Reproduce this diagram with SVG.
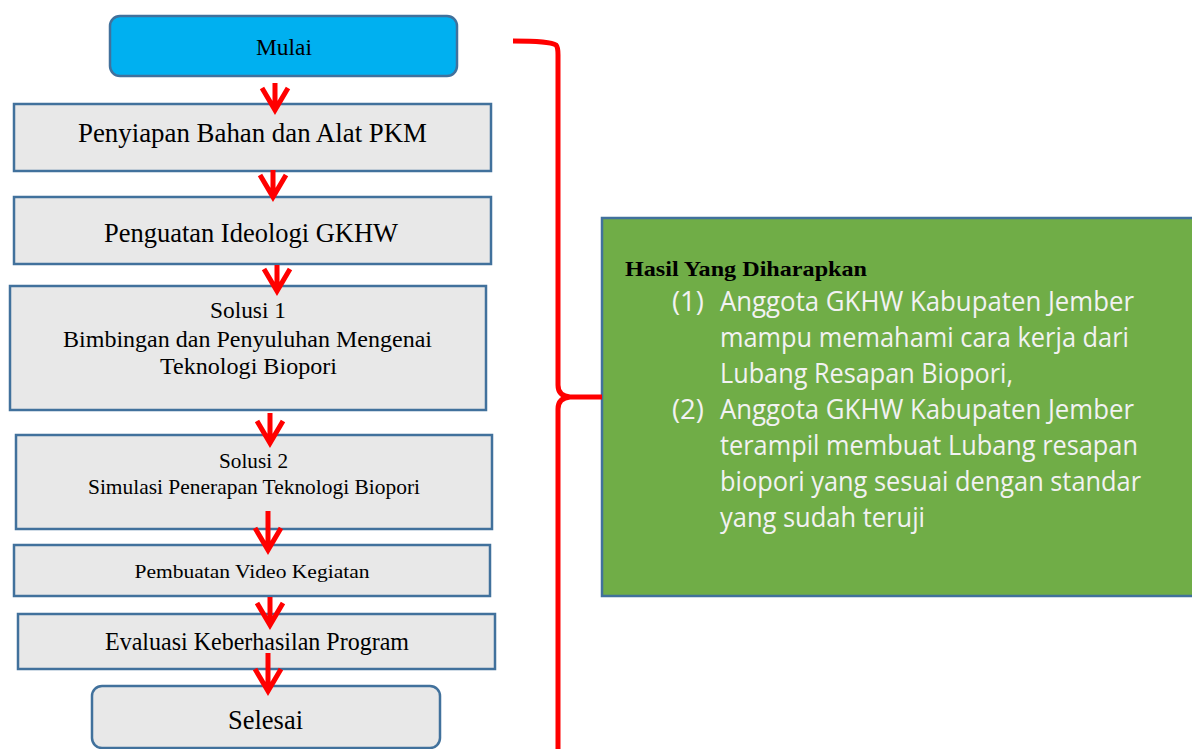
<svg xmlns="http://www.w3.org/2000/svg" width="1192" height="749" viewBox="0 0 1192 749">
<style>
.box{fill:#E8E8E8;stroke:#41719C;stroke-width:2.5}
.start{fill:#00B0F0;stroke:#41719C;stroke-width:2.5}
.t{font-family:"Liberation Serif","Times New Roman",serif;fill:#000;text-anchor:middle}
.g{font-family:"Open Sans","Liberation Sans",sans-serif;fill:#F2F2F2;font-size:27px}
.arr{fill:none;stroke:#FF0000;stroke-width:5;stroke-linejoin:miter}
.brace{fill:none;stroke:#FF0000;stroke-width:5;stroke-linecap:butt}
</style>
<rect width="1192" height="749" fill="#FFFFFF"/>

<g id="result">
<rect x="602" y="218" width="600" height="378" fill="#70AD47" stroke="#41719C" stroke-width="2.5"/>
<text x="625" y="276" font-family="'Liberation Serif','Times New Roman',serif" font-weight="bold" font-size="21" textLength="242" lengthAdjust="spacingAndGlyphs">Hasil Yang Diharapkan</text>
<text class="g" x="672" y="311" textLength="32" lengthAdjust="spacingAndGlyphs">(1)</text>
<text class="g" x="720" y="311" textLength="414" lengthAdjust="spacingAndGlyphs">Anggota GKHW Kabupaten Jember</text>
<text class="g" x="720" y="347" textLength="409" lengthAdjust="spacingAndGlyphs">mampu memahami cara kerja dari</text>
<text class="g" x="720" y="383" textLength="293" lengthAdjust="spacingAndGlyphs">Lubang Resapan Biopori,</text>
<text class="g" x="672" y="419" textLength="32" lengthAdjust="spacingAndGlyphs">(2)</text>
<text class="g" x="720" y="419" textLength="414" lengthAdjust="spacingAndGlyphs">Anggota GKHW Kabupaten Jember</text>
<text class="g" x="720" y="455" textLength="418" lengthAdjust="spacingAndGlyphs">terampil membuat Lubang resapan</text>
<text class="g" x="720" y="491" textLength="421" lengthAdjust="spacingAndGlyphs">biopori yang sesuai dengan standar</text>
<text class="g" x="720" y="527" textLength="205" lengthAdjust="spacingAndGlyphs">yang sudah teruji</text>
</g>

<g id="mulai">
<rect class="start" x="110" y="16" width="347" height="60" rx="10"/>
<text class="t" x="284" y="55" font-size="24" textLength="56" lengthAdjust="spacingAndGlyphs">Mulai</text>
</g>
<g id="penyiapan">
<rect class="box" x="14" y="104" width="477" height="67"/>
<text class="t" x="252.5" y="142" font-size="27" textLength="349" lengthAdjust="spacingAndGlyphs">Penyiapan Bahan dan Alat PKM</text>
</g>
<g id="penguatan">
<rect class="box" x="14" y="197" width="477" height="67"/>
<text class="t" x="251" y="242" font-size="27" textLength="294" lengthAdjust="spacingAndGlyphs">Penguatan Ideologi GKHW</text>
</g>
<g id="solusi1">
<rect class="box" x="10" y="286" width="476" height="124"/>
<text class="t" x="248" y="318" font-size="24" textLength="76" lengthAdjust="spacingAndGlyphs">Solusi 1</text>
<text class="t" x="247.5" y="347" font-size="24" textLength="369" lengthAdjust="spacingAndGlyphs">Bimbingan dan Penyuluhan Mengenai</text>
<text class="t" x="248.5" y="374" font-size="24" textLength="177" lengthAdjust="spacingAndGlyphs">Teknologi Biopori</text>
</g>
<g id="solusi2">
<rect class="box" x="16" y="435" width="476" height="94"/>
<text class="t" x="253.5" y="468" font-size="21" textLength="69" lengthAdjust="spacingAndGlyphs">Solusi 2</text>
<text class="t" x="254" y="494" font-size="21" textLength="332" lengthAdjust="spacingAndGlyphs">Simulasi Penerapan Teknologi Biopori</text>
</g>
<g id="video">
<rect class="box" x="14" y="545" width="476" height="51"/>
<text class="t" x="252" y="578" font-size="19.5" textLength="235" lengthAdjust="spacingAndGlyphs">Pembuatan Video Kegiatan</text>
</g>
<g id="evaluasi">
<rect class="box" x="18" y="614" width="477" height="55"/>
<text class="t" x="257" y="650" font-size="24.5" textLength="304" lengthAdjust="spacingAndGlyphs">Evaluasi Keberhasilan Program</text>
</g>
<g id="selesai">
<rect class="box" x="92" y="686" width="348" height="62" rx="10"/>
<text class="t" x="265.5" y="729" font-size="27" textLength="75" lengthAdjust="spacingAndGlyphs">Selesai</text>
</g>

<g id="connectors">
<path class="arr" d="M275,83 V110 M262,88 L275,110 L288,88"/>
<path class="arr" d="M273,170 V197 M260,175 L273,197 L286,175"/>
<path class="arr" d="M277,265 V291 M264,269 L277,291 L290,269"/>
<path class="arr" d="M270,413 V443 M257,421 L270,443 L283,421"/>
<path class="arr" d="M268,511 V550 M255,528 L268,550 L281,528"/>
<path class="arr" d="M270,597 V625 M257,603 L270,625 L283,603"/>
<path class="arr" d="M268,653 V691 M255,669 L268,691 L281,669"/>
<path class="brace" d="M513,41 Q550,41 556,45 Q558,47 558,55 L558,385 Q558,396 570,397 L602,397 M570,397 Q558,398 558,409 L558,752"/>
</g>
</svg>
